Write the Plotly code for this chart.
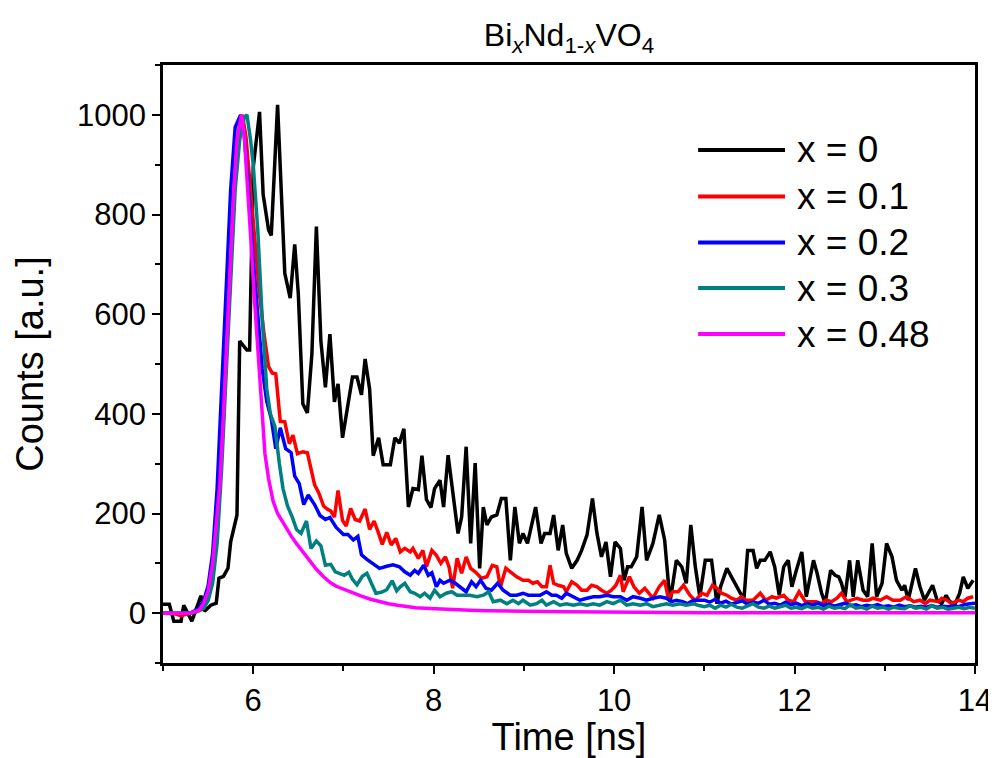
import plotly.graph_objects as go

# ---------------- data ----------------
series_names = ["x = 0", "x = 0.1", "x = 0.2", "x = 0.3", "x = 0.48"]
series_colors = ["#000000", "#FF0000", "#0000FF", "#008080", "#FF00FF"]

t_x0 = [5.00, 5.07, 5.12, 5.20, 5.23, 5.28, 5.32, 5.36, 5.42, 5.46, 5.53, 5.59, 5.62, 5.67, 5.72, 5.75,
        5.79, 5.82, 5.85, 5.89, 5.93, 5.96, 6.00, 6.07, 6.11, 6.17, 6.20, 6.27, 6.32, 6.35, 6.41, 6.46,
        6.50, 6.55, 6.60, 6.65, 6.70, 6.75, 6.80, 6.85, 6.90, 6.94, 6.99, 7.05, 7.10, 7.15, 7.20, 7.24,
        7.29, 7.33, 7.39, 7.44, 7.52, 7.57, 7.62, 7.67, 7.72, 7.77, 7.83, 7.87, 7.92, 7.97, 8.01, 8.07,
        8.11, 8.16, 8.22, 8.27, 8.31, 8.36, 8.41, 8.46, 8.51, 8.55, 8.59, 8.64, 8.70, 8.75, 8.80, 8.85,
        8.90, 8.95, 8.99, 9.04, 9.09, 9.13, 9.19, 9.23, 9.29, 9.33, 9.38, 9.43, 9.47, 9.53, 9.59, 9.64,
        9.70, 9.76, 9.81, 9.86, 9.91, 9.96, 10.01, 10.07, 10.11, 10.15, 10.19, 10.25, 10.31, 10.36, 10.43,
        10.50, 10.56, 10.62, 10.69, 10.75, 10.80, 10.85, 10.90, 10.95, 11.01, 11.08, 11.14, 11.18, 11.25,
        11.32, 11.40, 11.44, 11.48, 11.54, 11.58, 11.62, 11.67, 11.73, 11.78, 11.83, 11.88, 11.93, 11.97,
        12.02, 12.08, 12.13, 12.21, 12.25, 12.30, 12.34, 12.40, 12.45, 12.49, 12.52, 12.56, 12.61, 12.65,
        12.70, 12.76, 12.81, 12.86, 12.91, 12.97, 13.02, 13.08, 13.13, 13.19, 13.22, 13.26, 13.34, 13.39,
        13.44, 13.48, 13.53, 13.58, 13.63, 13.68, 13.72, 13.78, 13.83, 13.87, 13.92, 13.98]
v_x0 = [18, 18, -16, -16, 16, 0, -16, 4, 35, 4, 16, 20, 70, 74, 90, 143,
        172, 197, 546, 536, 528, 528, 894, 1006, 840, 769, 758, 1020, 783, 682, 632, 740,
        640, 420, 402, 520, 776, 546, 453, 560, 424, 460, 352, 424, 474, 474, 438, 510,
        450, 316, 352, 298, 298, 352, 341, 370, 213, 250, 248, 316, 228, 212, 250, 267,
        213, 317, 234, 160, 193, 334, 140, 301, 90, 213, 177, 193, 197, 230, 230, 106,
        213, 140, 160, 140, 180, 213, 140, 160, 160, 197, 126, 177, 120, 90, 106, 126,
        157, 230, 160, 113, 143, 73, 143, 130, 66, 93, 93, 113, 213, 106, 140,
        197, 147, 22, 106, 93, 60, 177, 93, 33, 106, 106, 19, 53, 90,
        66, 40, 30, 126, 126, 90, 106, 106, 123, 93, 36, 93, 106, 53,
        86, 123, 33, 106, 80, 40, 20, 86, 76, 73, 60, 33, 106, 33,
        106, 46, 33, 140, 33, 60, 140, 113, 66, 46, 56, 26, 90, 53,
        26, 40, 56, 26, 19, 36, 23, 19, 40, 73, 50, 66]

t_x01 = [5.00, 5.10, 5.20, 5.30, 5.40, 5.45, 5.50, 5.55, 5.60, 5.65, 5.70, 5.75, 5.80, 5.84, 5.88,
         5.92, 5.97, 6.02, 6.07, 6.12, 6.17, 6.21, 6.25, 6.30, 6.35, 6.40, 6.44, 6.49, 6.55, 6.60,
         6.64, 6.68, 6.73, 6.78, 6.82, 6.86, 6.90, 6.94, 6.99, 7.03, 7.08, 7.13, 7.18, 7.24, 7.29,
         7.34, 7.39, 7.43, 7.48, 7.53, 7.58, 7.63, 7.68, 7.74, 7.77, 7.83, 7.88, 7.92, 7.98, 8.03,
         8.08, 8.13, 8.17, 8.21, 8.26, 8.31, 8.36, 8.41, 8.46, 8.53, 8.59, 8.65, 8.70, 8.74, 8.80,
         8.87, 8.92, 8.99, 9.05, 9.10, 9.15, 9.20, 9.25, 9.29, 9.33, 9.38, 9.44, 9.47, 9.53, 9.59,
         9.64, 9.70, 9.75, 9.81, 9.86, 9.92, 9.97, 10.02, 10.07, 10.10, 10.17, 10.22, 10.28, 10.34,
         10.39, 10.43, 10.50, 10.56, 10.60, 10.65, 10.71, 10.77, 10.84, 10.90, 10.97, 11.03, 11.09,
         11.14, 11.19, 11.25, 11.30, 11.36, 11.41, 11.46, 11.54, 11.62, 11.68, 11.75, 11.80, 11.88,
         11.93, 11.99, 12.05, 12.12, 12.17, 12.24, 12.30, 12.35, 12.41, 12.47, 12.52, 12.58, 12.69,
         12.76, 12.82, 12.87, 12.95, 13.02, 13.09, 13.17, 13.24, 13.32, 13.39, 13.45, 13.50, 13.60,
         13.63, 13.69, 13.74, 13.82, 13.87, 13.92, 13.98]
v_x01 = [0, 0, -5, 0, 5, 10, 30, 70, 160, 320, 500, 700, 880, 970, 1000,
         955, 850, 740, 640, 560, 495, 482, 480, 385, 384, 340, 357, 320, 324, 322,
         290, 258, 240, 215, 209, 205, 193, 246, 186, 175, 210, 188, 185, 209, 168,
         185, 160, 138, 162, 137, 150, 123, 130, 123, 130, 110, 126, 93, 126, 116,
         100, 113, 93, 50, 110, 80, 113, 90, 83, 70, 73, 96, 93, 53, 90,
         80, 73, 66, 66, 60, 63, 53, 53, 96, 60, 56, 53, 43, 63, 56,
         46, 46, 56, 53, 46, 40, 46, 56, 76, 43, 73, 53, 40, 50,
         40, 30, 53, 66, 30, 43, 43, 56, 36, 25, 40, 36, 56,
         50, 40, 36, 30, 26, 33, 26, 26, 40, 26, 33, 30, 36,
         26, 23, 43, 23, 23, 23, 19, 26, 23, 30, 40, 23, 30,
         26, 26, 30, 26, 33, 26, 26, 33, 23, 26, 19, 26, 23,
         30, 26, 19, 26, 23, 30, 33]

t_x02 = [5.00, 5.10, 5.20, 5.30, 5.40, 5.45, 5.50, 5.55, 5.60, 5.65, 5.70, 5.75, 5.80, 5.83, 5.86,
         5.90, 5.95, 6.00, 6.05, 6.10, 6.15, 6.20, 6.25, 6.30, 6.36, 6.42, 6.46, 6.51, 6.56, 6.61,
         6.68, 6.74, 6.80, 6.85, 6.92, 7.00, 7.05, 7.11, 7.16, 7.20, 7.26, 7.33, 7.40, 7.48, 7.55,
         7.62, 7.68, 7.74, 7.79, 7.83, 7.89, 7.94, 7.98, 8.03, 8.07, 8.11, 8.18, 8.24, 8.29, 8.36,
         8.42, 8.47, 8.52, 8.58, 8.64, 8.71, 8.77, 8.85, 8.92, 8.99, 9.05, 9.12, 9.18, 9.25, 9.31,
         9.36, 9.42, 9.47, 9.55, 9.62, 9.70, 9.77, 9.84, 9.92, 9.99, 10.07, 10.14, 10.21, 10.29,
         10.36, 10.43, 10.51, 10.58, 10.64, 10.69, 10.76, 10.81, 10.88, 10.93, 11.00, 11.06, 11.12,
         11.18, 11.24, 11.30, 11.36, 11.42, 11.48, 11.54, 11.60, 11.66, 11.72, 11.78, 11.84, 11.90,
         11.96, 12.02, 12.08, 12.14, 12.20, 12.26, 12.32, 12.38, 12.44, 12.50, 12.56, 12.62, 12.68,
         12.74, 12.80, 12.86, 12.92, 12.98, 13.04, 13.10, 13.16, 13.22, 13.28, 13.34, 13.40, 13.46,
         13.52, 13.58, 13.64, 13.70, 13.76, 13.82, 13.88, 13.94, 14.00]
v_x02 = [0, 0, 0, 0, 10, 25, 55, 120, 250, 440, 660, 850, 975, 990, 1000,
         960, 850, 710, 590, 490, 425, 390, 330, 372, 330, 322, 275, 260, 218, 237,
         218, 196, 188, 192, 172, 158, 158, 147, 154, 117, 108, 100, 90, 94, 97,
         93, 83, 76, 86, 80, 96, 76, 81, 53, 66, 60, 66, 60, 53, 43,
         63, 53, 66, 50, 46, 60, 46, 36, 36, 40, 36, 36, 36, 43, 36,
         36, 30, 40, 33, 26, 30, 33, 33, 36, 33, 33, 26, 33, 30,
         26, 30, 33, 30, 23, 26, 23, 19, 26, 26, 26, 22, 28,
         20, 24, 18, 22, 25, 18, 22, 20, 26, 18, 20, 16, 22,
         17, 20, 15, 19, 16, 20, 15, 18, 14, 17, 20, 15, 17,
         13, 16, 14, 17, 13, 15, 12, 16, 13, 15, 12, 14, 12,
         15, 12, 14, 13, 15, 13, 17, 19, 20]

t_x03 = [5.00, 5.10, 5.20, 5.30, 5.40, 5.45, 5.50, 5.55, 5.60, 5.65, 5.70, 5.75, 5.80, 5.85, 5.90,
         5.93, 5.97, 6.00, 6.05, 6.10, 6.15, 6.19, 6.24, 6.29, 6.33, 6.38, 6.43, 6.48, 6.53, 6.59,
         6.64, 6.70, 6.75, 6.80, 6.86, 6.91, 6.96, 7.01, 7.06, 7.10, 7.15, 7.21, 7.26, 7.31, 7.36,
         7.42, 7.48, 7.54, 7.59, 7.63, 7.68, 7.74, 7.79, 7.85, 7.90, 7.96, 8.01, 8.07, 8.14, 8.20,
         8.26, 8.33, 8.40, 8.48, 8.55, 8.61, 8.66, 8.74, 8.81, 8.88, 8.94, 8.99, 9.07, 9.14, 9.20,
         9.25, 9.33, 9.40, 9.47, 9.55, 9.62, 9.70, 9.77, 9.84, 9.92, 9.99, 10.07, 10.14, 10.21,
         10.29, 10.36, 10.43, 10.51, 10.58, 10.65, 10.73, 10.80, 10.88, 10.93, 11.00, 11.06, 11.12,
         11.18, 11.24, 11.30, 11.36, 11.42, 11.48, 11.54, 11.60, 11.66, 11.72, 11.78, 11.84, 11.90,
         11.96, 12.02, 12.08, 12.14, 12.20, 12.26, 12.32, 12.38, 12.44, 12.50, 12.56, 12.62, 12.68,
         12.74, 12.80, 12.86, 12.92, 12.98, 13.04, 13.10, 13.16, 13.22, 13.28, 13.34, 13.40, 13.46,
         13.52, 13.58, 13.64, 13.70, 13.76, 13.82, 13.88, 13.94, 14.00]
v_x03 = [0, 0, 0, 0, 5, 10, 25, 60, 140, 290, 480, 680, 850, 950, 995,
         1000, 950, 900, 770, 590, 450, 400, 375, 300, 250, 215, 194, 168, 160, 185,
         130, 145, 135, 96, 98, 83, 80, 76, 82, 68, 57, 74, 80, 60, 40,
         42, 47, 65, 45, 53, 60, 43, 40, 33, 40, 30, 46, 33, 40, 43,
         36, 36, 36, 33, 36, 43, 23, 26, 19, 26, 19, 26, 16, 19, 26,
         16, 23, 16, 19, 16, 19, 16, 19, 16, 23, 19, 26, 16, 19,
         16, 19, 13, 16, 19, 16, 19, 16, 19, 16, 13, 16, 10,
         16, 12, 18, 12, 10, 15, 19, 12, 10, 14, 10, 13, 16,
         10, 12, 9, 14, 10, 12, 8, 14, 10, 12, 9, 17, 10,
         12, 8, 14, 10, 12, 8, 12, 10, 9, 15, 10, 12, 8,
         15, 10, 12, 8, 10, 12, 9, 12, 10]

t_x048 = [5.00, 5.10, 5.20, 5.30, 5.35, 5.40, 5.45, 5.50, 5.55, 5.60, 5.63, 5.67, 5.70, 5.74, 5.78,
          5.82, 5.87, 5.90, 5.93, 5.97, 6.01, 6.05, 6.09, 6.13, 6.17, 6.22, 6.27, 6.32, 6.37, 6.42,
          6.47, 6.52, 6.57, 6.63, 6.70, 6.78, 6.85, 6.92, 7.00, 7.10, 7.20, 7.30, 7.40, 7.50, 7.60,
          7.70, 7.80, 7.90, 8.00, 8.20, 8.40, 8.60, 8.80, 9.00, 9.50, 10.00, 10.50, 11.00, 12.00,
          13.00, 14.00]
v_x048 = [0, 0, 0, 0, 3, 6, 20, 45, 100, 190, 259, 400, 520, 690, 833,
          950, 1000, 960, 880, 760, 640, 530, 410, 320, 270, 225, 200, 185, 168, 155,
          142, 130, 118, 103, 88, 73, 62, 54, 48, 42, 34, 28, 23, 19, 16,
          13, 11, 10, 9, 7, 6, 5, 4, 4, 3, 2, 2, 1, 1,
          1, 1]

series_t = [t_x0, t_x01, t_x02, t_x03, t_x048]
series_v = [v_x0, v_x01, v_x02, v_x03, v_x048]

x_ticks = [6, 8, 10, 12, 14]
y_ticks = [0, 200, 400, 600, 800, 1000]

FONT = "Liberation Sans, Arial, sans-serif"

# The page body has an 8 px margin, so the figure is drawn 8 px smaller
# and its margins are set so that the frame lands where the reference has it.
W, H = 988, 750

fig = go.Figure()
for name, col, tt, vv in zip(series_names, series_colors, series_t, series_v):
    fig.add_trace(go.Scatter(x=tt, y=vv, mode="lines", name=name,
                             line=dict(color=col, width=3.5), showlegend=False))

# manual legend (long line samples like the original)
leg_y = [0.858, 0.780, 0.703, 0.627, 0.550]
for name, col, yy in zip(series_names, series_colors, leg_y):
    fig.add_shape(type="line", xref="paper", yref="paper", x0=0.659, x1=0.766, y0=yy, y1=yy,
                  line=dict(color=col, width=4))
    fig.add_annotation(xref="paper", yref="paper", x=0.778, y=yy, text=name, showarrow=False,
                       xanchor="left", yanchor="middle", font=dict(family=FONT, size=37, color="black"))

axis_common = dict(showline=True, linewidth=2.5, linecolor="black", mirror=True,
                   ticks="outside", tickwidth=2, ticklen=8, tickcolor="black",
                   showgrid=False, zeroline=False, automargin=False,
                   tickfont=dict(family=FONT, size=31, color="black"))

fig.update_xaxes(range=[5, 14], tickvals=x_ticks, ticktext=[str(v) for v in x_ticks],
                 minor=dict(dtick=1, tick0=5, ticks="outside", ticklen=5, tickwidth=2, tickcolor="black"),
                 title=dict(text="Time [ns]", font=dict(family=FONT, size=38, color="black"), standoff=2),
                 **axis_common)
fig.update_yaxes(range=[-100, 1100], tickvals=y_ticks, ticktext=[str(v) for v in y_ticks],
                 minor=dict(dtick=100, tick0=0, ticks="outside", ticklen=5, tickwidth=2, tickcolor="black"),
                 title=dict(text="Counts [a.u.]", font=dict(family=FONT, size=38, color="black"), standoff=22),
                 **axis_common)

fig.update_layout(
    width=W, height=H,
    margin=dict(l=155, r=W - 967, t=57, b=H - 655, autoexpand=False),
    paper_bgcolor="white", plot_bgcolor="white",
    title=dict(text="Bi<sub><i>x</i></sub>Nd<sub>1-<i>x</i></sub>VO<sub>4</sub>",
               x=0.5, xref="paper", y=1 - 27 / H, yref="container", yanchor="middle",
               font=dict(family=FONT, size=32, color="black")),
)

fig.write_html("out.html")
